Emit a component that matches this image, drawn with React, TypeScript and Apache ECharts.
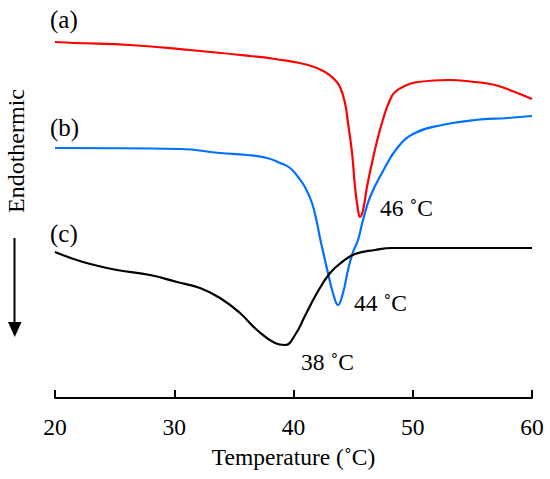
import React, { useEffect, useRef } from "react";
import * as echarts from "echarts";

// Temperature (°C) vs relative heat flow (arbitrary units, endothermic downward)
const curveA: [number, number][] = [
  [20, 356], [21.68, 355], [26.29, 353], [31.32, 348], [36.35, 342], [38.45, 339],
  [41.22, 333], [42.64, 326], [43.4, 319], [43.9, 311], [44.32, 295], [44.57, 275],
  [44.91, 245], [45.16, 211], [45.41, 188], [45.58, 181], [45.83, 188], [46.16, 211],
  [46.58, 235], [47.09, 261], [47.67, 285], [48.09, 298], [48.51, 306], [49.52, 313],
  [50.44, 316], [52.96, 318], [55.22, 316], [56.9, 313], [58.57, 306], [60, 299],
];
const curveB: [number, number][] = [
  [20, 250], [30.48, 249], [33.84, 245], [36.1, 243], [37.78, 240], [38.87, 235],
  [39.71, 230], [40.38, 221], [40.96, 211], [41.55, 195], [41.97, 175], [42.22, 160],
  [42.6, 140], [42.89, 125], [43.31, 105], [43.73, 93], [44.15, 105], [44.57, 128],
  [44.99, 146], [45.41, 158], [45.83, 178], [46.42, 201], [47.42, 225], [48.76, 251],
  [50.19, 265], [52.45, 273], [55.22, 278], [57.99, 280], [60, 282],
];
const curveC: [number, number][] = [
  [20, 146], [22.35, 136], [25.2, 128], [27.97, 123], [30.23, 116], [32.16, 110],
  [33.84, 100], [35.51, 85], [36.94, 68], [38.45, 55], [39.29, 53], [40.13, 63],
  [40.96, 82], [41.97, 105], [43.06, 125], [44.07, 136], [45.16, 144], [46.83, 148],
  [48.26, 150], [60, 150],
];
const curveLabels = ["(a)", "(b)", "(c)"];
const peakLabels = ["46 \u02DAC", "44 \u02DAC", "38 \u02DAC"];
const xTicks = [20, 30, 40, 50, 60];

const FONT = "'Liberation Serif', 'DejaVu Serif', serif";

export default function App() {
  const ref = useRef<HTMLDivElement>(null);
  useEffect(() => {
    if (!ref.current) return;
    const chart = echarts.init(ref.current, undefined, { renderer: "svg" });
    const lineSeries = (data: [number, number][], color: string) => ({
      type: "line",
      data,
      showSymbol: false,
      smooth: 0.45,
      lineStyle: { color, width: 2.2 },
    });
    const txt = (text: string, x: number, y: number, size: number) => ({
      type: "text",
      x,
      y,
      style: {
        text,
        fill: "#000",
        font: `${size}px ${FONT}`,
        align: "left",
        verticalAlign: "middle",
      },
    });
    chart.setOption({
      animation: false,
      backgroundColor: "#fff",
      grid: { left: 55, right: 18, top: 0, bottom: 81, containLabel: false, outerBoundsMode: "none" },
      xAxis: {
        type: "value",
        min: xTicks[0],
        max: xTicks[xTicks.length - 1],
        interval: 10,
        name: "Temperature (\u02DAC)",
        nameLocation: "middle",
        nameGap: 47,
        nameTextStyle: { color: "#000", fontFamily: FONT, fontSize: 23.5, verticalAlign: "top" },
        axisLine: { show: true, lineStyle: { color: "#000", width: 2 } },
        axisTick: { show: true, inside: true, length: 8, lineStyle: { color: "#000", width: 2 } },
        axisLabel: { color: "#000", fontFamily: FONT, fontSize: 23.5, margin: 17 },
        splitLine: { show: false },
      },
      yAxis: {
        type: "value",
        min: 0,
        max: 398,
        show: false,
        splitLine: { show: false },
      },
      series: [
        lineSeries(curveA, "#ff0000"),
        lineSeries(curveB, "#0070ff"),
        lineSeries(curveC, "#000000"),
      ],
      graphic: [
        txt(curveLabels[0], 50, 19, 25),
        txt(curveLabels[1], 50, 127, 25),
        txt(curveLabels[2], 50, 233, 25),
        txt(peakLabels[0], 380, 208, 23.5),
        txt(peakLabels[1], 354, 303, 23.5),
        txt(peakLabels[2], 301, 362, 23.5),
        {
          type: "text",
          x: 16,
          y: 151,
          rotation: Math.PI / 2,
          style: {
            text: "Endothermic",
            fill: "#000",
            font: `24px ${FONT}`,
            align: "center",
            verticalAlign: "middle",
          },
        },
        {
          type: "line",
          shape: { x1: 14.5, y1: 238, x2: 14.5, y2: 324 },
          style: { stroke: "#000", lineWidth: 2 },
        },
        {
          type: "polygon",
          shape: { points: [[8, 322], [21.5, 322], [14.75, 337]] },
          style: { fill: "#000" },
        },
      ],
    });
    return () => chart.dispose();
  }, []);
  return (
    <div
      ref={ref}
      style={{ position: "fixed", left: 0, top: 0, width: 550, height: 479, background: "#fff" }}
    />
  );
}
